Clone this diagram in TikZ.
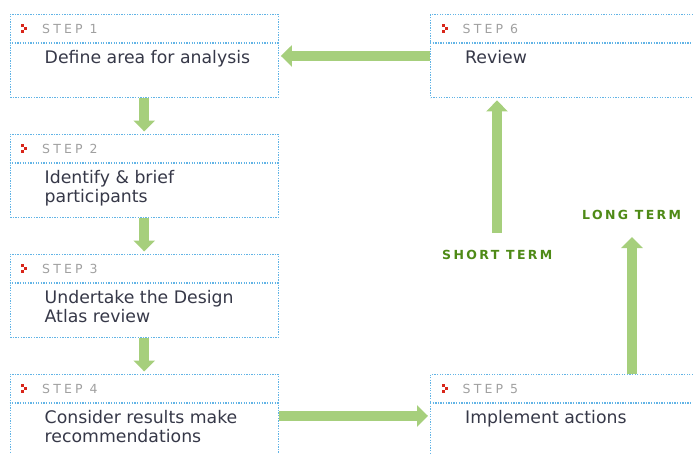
\documentclass[tikz,border=0pt]{standalone}
\usepackage{fontspec}
\setmainfont{DejaVu Sans}
\newfontfamily\stepfont[LetterSpace=25]{DejaVu Sans}
\newfontfamily\termfont[LetterSpace=19]{DejaVu Sans}
\usetikzlibrary{arrows.meta}
\definecolor{arrowgreen}{HTML}{A6CF7C}
\definecolor{dotblue}{HTML}{62B4E6}
\definecolor{textdark}{HTML}{363848}
\definecolor{stepgray}{HTML}{A0A0A0}
\definecolor{termgreen}{HTML}{4E8A16}
\definecolor{markred}{HTML}{D8261A}
\tikzset{
  stepbox/.style={draw=dotblue, line width=1.4pt, dash pattern=on 1.3pt off 1.3pt,
    anchor=north west, minimum width=268pt, minimum height=83.5pt, inner sep=0pt},
  widebox/.style={stepbox, minimum width=300pt},
  divider/.style={draw=dotblue, line width=1.4pt, dash pattern=on 1.3pt off 1.3pt},
  steplabel/.style={anchor=west, inner sep=0pt, text=stepgray, font={\stepfont\fontsize{12.5}{14}\selectfont}},
  maintext/.style={anchor=north west, inner sep=0pt, align=left, text=textdark,
    font={\fontsize{17.3}{19}\selectfont}},
  termlabel/.style={anchor=west, inner sep=0pt, text=termgreen, font={\termfont\bfseries\fontsize{12.5}{14}\selectfont}},
  bigarrow/.style={draw=arrowgreen, line width=10pt, -{Triangle[width=21pt,length=11pt]}},
  markpix/.style={fill=markred}
}
\newcommand\stepmarker[1]{%
  \begin{scope}[shift={(#1.north west)}]
    \fill[markpix] (11.5,10) rectangle (14.5,13);
    \fill[markpix] (14.5,13) rectangle (17.5,16);
    \fill[markpix] (11.5,16) rectangle (14.5,19);
  \end{scope}}
\newcommand\mystrut{\rule{0pt}{14pt}}
\begin{document}
\begin{tikzpicture}[x=1pt,y=-1pt]
\useasboundingbox (0,0) rectangle (693,453);
\clip (0,0) rectangle (693,453);

% boxes
\node[stepbox] (b1) at (9.5,13.5) {};
\node[stepbox] (b2) at (9.5,133.5) {};
\node[stepbox] (b3) at (9.5,253.5) {};
\node[stepbox] (b4) at (9.5,373.5) {};
\node[widebox] (b5) at (430,373.5) {};
\node[widebox] (b6) at (430,13.5) {};

\foreach \b in {b1,b2,b3,b4,b5,b6}{
  \draw[divider] ([yshift=-29.5pt]\b.north west) -- ([yshift=-29.5pt]\b.north east);
}

% markers
\stepmarker{b1}
\stepmarker{b2}
\stepmarker{b3}
\stepmarker{b4}
\stepmarker{b5}
\stepmarker{b6}

% step labels
\node[steplabel] (s1) at ([xshift=32.5pt,yshift=-15pt]b1.north west) {STEP 1};
\node[steplabel] (s2) at ([xshift=32.5pt,yshift=-15pt]b2.north west) {STEP 2};
\node[steplabel] (s3) at ([xshift=32.5pt,yshift=-15pt]b3.north west) {STEP 3};
\node[steplabel] (s4) at ([xshift=32.5pt,yshift=-15pt]b4.north west) {STEP 4};
\node[steplabel] (s5) at ([xshift=32.5pt,yshift=-15pt]b5.north west) {STEP 5};
\node[steplabel] (s6) at ([xshift=32.5pt,yshift=-15pt]b6.north west) {STEP 6};

% main texts
\node[maintext] (t1) at ([xshift=35pt,yshift=-35.5pt]b1.north west) {\mystrut Define area for analysis};
\node[maintext] (t2) at ([xshift=35pt,yshift=-35.5pt]b2.north west) {\mystrut Identify \& brief\\participants};
\node[maintext] (t3) at ([xshift=35pt,yshift=-35.5pt]b3.north west) {\mystrut Undertake the Design\\Atlas review};
\node[maintext] (t4) at ([xshift=35pt,yshift=-35.5pt]b4.north west) {\mystrut Consider results make\\recommendations};
\node[maintext] (t5) at ([xshift=35pt,yshift=-35.5pt]b5.north west) {\mystrut Implement actions};
\node[maintext] (t6) at ([xshift=35pt,yshift=-35.5pt]b6.north west) {\mystrut Review};

% arrows
\draw[bigarrow, shorten >=2pt] (b1.south) -- (b2.north);
\draw[bigarrow, shorten >=2pt] (b2.south) -- (b3.north);
\draw[bigarrow, shorten >=2pt] (b3.south) -- (b4.north);
\draw[bigarrow, shorten >=2pt] (b6.west) -- (b1.east);
\draw[bigarrow, shorten >=2pt] (b4.east) -- (b5.west);

\coordinate (st) at (497,233);
\coordinate (lt) at (632,237);
\draw[bigarrow, shorten >=2pt] (st) -- (st |- b6.south);
\draw[bigarrow] (lt |- b5.north) -- (lt);

% term labels
\node[termlabel] (short) at (442,255) {SHORT TERM};
\node[termlabel] (long) at (582,215) {LONG TERM};
\end{tikzpicture}
\end{document}
